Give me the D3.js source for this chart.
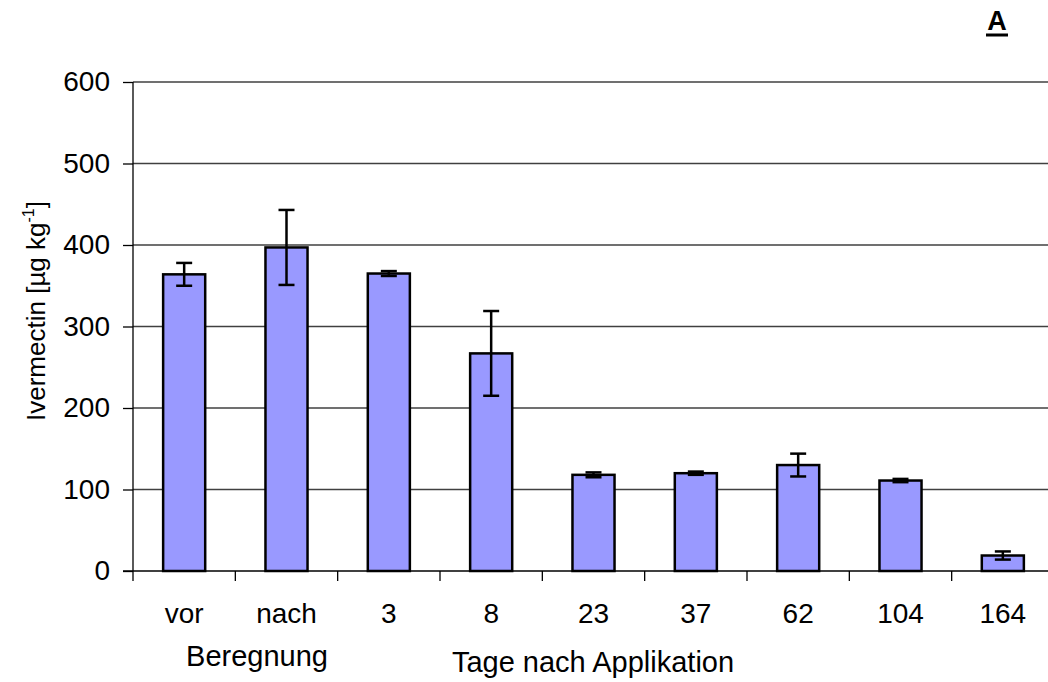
<!DOCTYPE html>
<html><head><meta charset="utf-8">
<script src="https://cdn.jsdelivr.net/npm/d3@7"></script>
<style>
html,body{margin:0;padding:0;background:#fff;}
text{font-family:"Liberation Sans",Arial,sans-serif;fill:#000;}
</style></head>
<body>
<svg id="chart" width="1048" height="682"></svg>
<script>
const categories = ["vor","nach","3","8","23","37","62","104","164"];
const values = [364, 397, 365, 267, 118, 120, 130, 111, 19];
const errors = [14, 46, 3, 52, 3, 2, 14, 2, 5];
const yTicks = [0, 100, 200, 300, 400, 500, 600];
const yTitle = "Ivermectin [µg kg";
const xGroup1 = "Beregnung";
const xGroup2 = "Tage nach Applikation";
const panelLabel = "A";

const svg = d3.select("#chart");
const mLeft = 133, mRight = 1054, mTop = 82, mBottom = 571;

const x = d3.scaleBand().domain(categories).range([mLeft, mRight])
  .paddingInner(0.589).paddingOuter(0.2945);
const y = d3.scaleLinear().domain([0, 600]).range([mBottom, mTop]);

// gridlines
svg.append("g").selectAll("line").data(yTicks.filter(d => d > 0)).join("line")
  .attr("x1", mLeft).attr("x2", 1048)
  .attr("y1", d => y(d)).attr("y2", d => y(d))
  .attr("stroke", "#404040").attr("stroke-width", 1.3);

// y axis
const yAxis = d3.axisLeft(y).tickValues(yTicks).tickSize(10).tickPadding(13);
const gy = svg.append("g").attr("transform", `translate(${mLeft},0)`).call(yAxis);
gy.select(".domain").remove();
gy.selectAll(".tick line").attr("stroke", "#000").attr("stroke-width", 1.3);
gy.selectAll(".tick text").attr("font-size", 28).attr("font-family", "Liberation Sans, Arial, sans-serif").attr("fill", "#000");
svg.append("line").attr("x1", mLeft).attr("x2", mLeft).attr("y1", mTop).attr("y2", mBottom)
  .attr("stroke", "#000").attr("stroke-width", 1.3);

// bars
svg.append("g").selectAll("rect").data(categories).join("rect")
  .attr("x", d => x(d)).attr("width", x.bandwidth())
  .attr("y", (d, i) => y(values[i])).attr("height", (d, i) => y(0) - y(values[i]))
  .attr("fill", "#9999FF").attr("stroke", "#000").attr("stroke-width", 2.5);

// error bars
const eg = svg.append("g").attr("stroke", "#000").attr("stroke-width", 2.5);
categories.forEach((c, i) => {
  const cx = x(c) + x.bandwidth() / 2;
  const y1 = y(values[i] + errors[i]), y2 = y(values[i] - errors[i]);
  eg.append("line").attr("x1", cx).attr("x2", cx).attr("y1", y1).attr("y2", y2);
  eg.append("line").attr("x1", cx - 8).attr("x2", cx + 8).attr("y1", y1).attr("y2", y1);
  eg.append("line").attr("x1", cx - 8).attr("x2", cx + 8).attr("y1", y2).attr("y2", y2);
});

// x axis line + ticks at category boundaries
svg.append("line").attr("x1", mLeft - 10).attr("x2", 1048).attr("y1", mBottom).attr("y2", mBottom)
  .attr("stroke", "#000").attr("stroke-width", 1.3);
const step = x.step();
svg.append("g").selectAll("line").data(categories).join("line")
  .attr("x1", d => x(d) - x.paddingOuter() * step).attr("x2", d => x(d) - x.paddingOuter() * step)
  .attr("y1", mBottom).attr("y2", mBottom + 10)
  .attr("stroke", "#000").attr("stroke-width", 1.3);

// x tick labels
svg.append("g").selectAll("text").data(categories).join("text")
  .attr("x", d => x(d) + x.bandwidth() / 2).attr("y", 623)
  .attr("text-anchor", "middle").attr("font-size", 28).text(d => d);

// group labels
svg.append("text").attr("x", 257).attr("y", 666)
  .attr("text-anchor", "middle").attr("font-size", 29).text(xGroup1);
svg.append("text").attr("x", 593).attr("y", 672)
  .attr("text-anchor", "middle").attr("font-size", 29).text(xGroup2);

// y title
const yt = svg.append("text").attr("transform", "translate(45,311) rotate(-90)")
  .attr("text-anchor", "middle").attr("font-size", 26);
yt.append("tspan").text(yTitle);
yt.append("tspan").attr("font-size", 16).attr("dy", -11).text("-1");
yt.append("tspan").attr("dy", 11).text("]");

// panel label
svg.append("text").attr("x", 997).attr("y", 30).attr("text-anchor", "middle")
  .attr("font-size", 27).attr("font-weight", "bold").text(panelLabel);
svg.append("line").attr("x1", 986).attr("x2", 1008).attr("y1", 35).attr("y2", 35)
  .attr("stroke", "#000").attr("stroke-width", 3);
</script>
</body></html>
